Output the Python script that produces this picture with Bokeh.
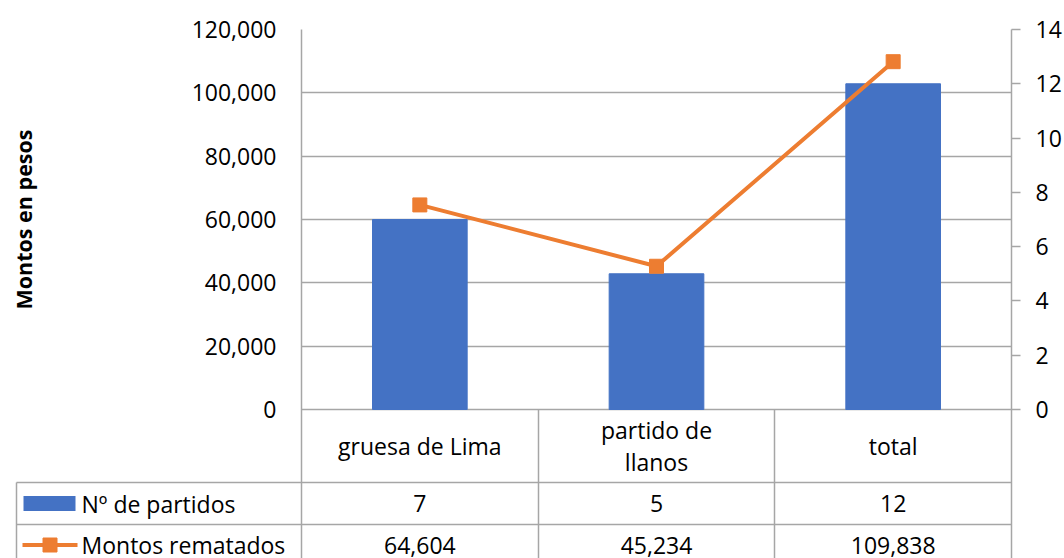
import math

from bokeh.plotting import figure
from bokeh.models import (Range1d, LinearAxis, FixedTicker,
                          NumeralTickFormatter, ColumnDataSource)
from bokeh.embed import file_html
from bokeh.resources import INLINE
from bokeh.core.properties import value

# --- data -------------------------------------------------------------
categories = ["gruesa de Lima", "partido de llanos", "total"]
category_labels = ["gruesa de Lima", "partido de\nllanos", "total"]
partidos = [7, 5, 12]                      # Nº de partidos (right axis)
montos = [64604, 45234, 109838]            # Montos rematados (left axis)
left_ticks = [0, 20000, 40000, 60000, 80000, 100000, 120000]
right_ticks = [0, 2, 4, 6, 8, 10, 12, 14]
series_names = ["Nº de partidos", "Montos rematados"]
y_title = "Montos en pesos"

FONT = "Open Sans"
BLUE = "#4472C4"
ORANGE = "#ED7D31"
GRID = "#A6A6A6"
TEXT = "#000000"

# --- layout (canvas pixels) -------------------------------------------
W, H = 1064, 558
FRAME_L, FRAME_R, FRAME_T = 301, 1011, 29
PLOT_B = 409                               # bottom of the value area / top of the table
col_edges = [16, 301, 538, 774, 1011]
row_edges = [PLOT_B, 482, 524, 566]

# the frame runs down through the data table, so the value ranges are
# extended below zero by the table's height
plot_h = PLOT_B - FRAME_T
below = H - PLOT_B
left_max, right_max = left_ticks[-1], right_ticks[-1]

# one slot per category, centred at i + 0.5
slots = [i + 0.5 for i in range(len(categories))]

p = figure(width=W, height=H,
           x_range=Range1d(0, len(categories)),
           y_range=Range1d(-below * left_max / plot_h, left_max),
           x_axis_location=None,
           output_backend="svg", toolbar_location=None,
           min_border_left=FRAME_L, min_border_right=W - FRAME_R,
           min_border_top=FRAME_T, min_border_bottom=0)
p.outline_line_color = None
p.background_fill_color = "white"
p.border_fill_color = "white"
p.extra_y_ranges = {"right": Range1d(-below * right_max / plot_h, right_max),
                    "px": Range1d(H, FRAME_T)}
p.extra_x_ranges = {"px": Range1d(FRAME_L, FRAME_R)}

p.xgrid.visible = False
p.ygrid.ticker = FixedTicker(ticks=left_ticks)
p.ygrid.grid_line_color = GRID
p.ygrid.grid_line_width = 1.5

ya = p.yaxis[0]
ya.ticker = FixedTicker(ticks=left_ticks)
ya.formatter = NumeralTickFormatter(format="0,0")
ya.major_tick_out = 0
ya.major_tick_in = 0
ya.minor_tick_line_color = None
ya.axis_line_color = GRID
ya.axis_line_width = 1.5
ya.major_label_standoff = 25
ya.major_label_text_font = FONT
ya.major_label_text_font_size = "23px"
ya.major_label_text_color = TEXT

ra = LinearAxis(y_range_name="right", ticker=FixedTicker(ticks=right_ticks))
ra.major_tick_out = 9
ra.major_tick_in = 0
ra.major_tick_line_color = GRID
ra.major_tick_line_width = 1.5
ra.minor_tick_line_color = None
ra.axis_line_color = GRID
ra.axis_line_width = 1.5
ra.major_label_standoff = 15
ra.major_label_text_font = FONT
ra.major_label_text_font_size = "23px"
ra.major_label_text_color = TEXT
p.add_layout(ra, "right")

# --- series -----------------------------------------------------------
src = ColumnDataSource(dict(x=slots, cat=categories, partidos=partidos, montos=montos))
p.vbar(x="x", top="partidos", width=0.4, source=src, y_range_name="right",
       fill_color=BLUE, line_color=BLUE)
p.line(x="x", y="montos", source=src, line_color=ORANGE, line_width=4)
p.scatter(x="x", y="montos", source=src, marker="square", size=14,
          fill_color=ORANGE, line_color=ORANGE)

# --- data table -------------------------------------------------------
PX = dict(x_range_name="px", y_range_name="px")
overlay = []

# rules of the table (the outer verticals are the two axis lines)
overlay.append(p.segment(x0=[col_edges[0]] * 2, x1=[col_edges[-1]] * 2,
                         y0=row_edges[1:3], y1=row_edges[1:3],
                         line_color=GRID, line_width=1.5, **PX))
overlay.append(p.segment(x0=[col_edges[0]], x1=[col_edges[0]],
                         y0=[row_edges[1]], y1=[H + 5],
                         line_color=GRID, line_width=1.5, **PX))
p.segment(x0=col_edges[2:4], x1=col_edges[2:4],
          y0=[PLOT_B] * 2, y1=[H + 5] * 2,
          line_color=GRID, line_width=1.5, **PX)

mids = [(row_edges[i] + row_edges[i + 1]) / 2 for i in range(3)]
mids[2] -= 0.5

txt = dict(text_font=value(FONT), text_font_size="23px", text_color=TEXT,
           text_baseline="middle", text_align="center")
p.text(x=slots, y=[mids[0]] * 3, text=category_labels,
       text_line_height=1.03, y_range_name="px", **txt)
p.text(x=slots, y=[mids[1]] * 3, text=[str(v) for v in partidos],
       y_range_name="px", **txt)
p.text(x=slots, y=[mids[2]] * 3, text=[f"{v:,}" for v in montos],
       y_range_name="px", **txt)

# series keys and names in the first column
overlay.append(p.rect(x=[49], y=[mids[1]], width=52, height=15,
                      fill_color=BLUE, line_color=None, **PX))
overlay.append(p.line(x=[22, 77], y=[mids[2], mids[2]], line_color=ORANGE,
                      line_width=4, **PX))
overlay.append(p.rect(x=[49.5], y=[mids[2]], width=14, height=14,
                      width_units="screen", height_units="screen",
                      fill_color=ORANGE, line_color=ORANGE, **PX))
overlay.append(p.text(x=[81, 81], y=mids[1:], text=series_names,
                      text_font=value(FONT), text_font_size="23px",
                      text_color=TEXT, text_baseline="middle",
                      text_align="left", **PX))

# vertical title of the value axis
overlay.append(p.text(x=[23], y=[(FRAME_T + PLOT_B) / 2], text=[y_title],
                      angle=math.pi / 2, text_align="center",
                      text_baseline="middle", text_font=value(FONT),
                      text_font_size="21.5px", text_font_style="bold",
                      text_color=TEXT, **PX))

for r in overlay:
    r.level = "overlay"

open("out.html", "w").write(file_html(p, INLINE))
